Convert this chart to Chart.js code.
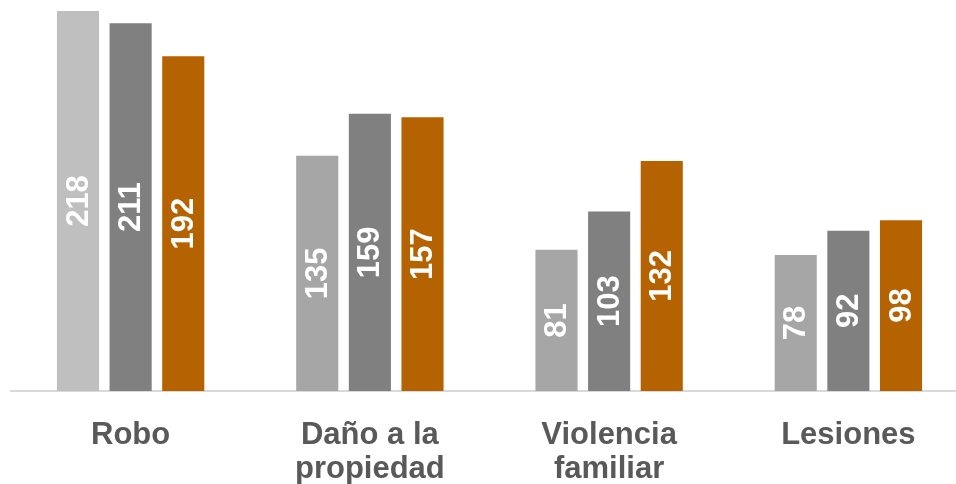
<!DOCTYPE html>
<html>
<head>
<meta charset="utf-8">
<script src="https://cdn.jsdelivr.net/npm/chart.js@4"></script>
<style>
  body { margin: 0; background: #fff; overflow: hidden; }
  #wrap { width: 968px; height: 484px; }
</style>
</head>
<body>
<div id="wrap"><canvas id="myChart"></canvas></div>
<script>
// categorias y series
const categorias = [["Robo"], ["Daño a la", "propiedad"], ["Violencia", "familiar"], ["Lesiones"]];
const serie1 = [218, 135, 81, 78];
const serie2 = [211, 159, 103, 92];
const serie3 = [192, 157, 132, 98];

const colores1 = ['#bfbfbf', '#a6a6a6', '#a6a6a6', '#a6a6a6'];
const fuente = '"Liberation Sans", Arial, sans-serif';

// etiquetas blancas giradas dentro de cada barra
const etiquetasBarras = {
    id: 'etiquetasBarras',
    afterDatasetsDraw(chart) {
        const ctx = chart.ctx;
        ctx.save();
        ctx.fillStyle = '#ffffff';
        ctx.font = 'bold 31px ' + fuente;
        ctx.textAlign = 'center';
        ctx.textBaseline = 'middle';
        chart.data.datasets.forEach((ds, i) => {
            chart.getDatasetMeta(i).data.forEach((bar, j) => {
                const cy = (bar.y + bar.base) / 2;
                ctx.save();
                ctx.translate(bar.x, cy);
                ctx.rotate(-Math.PI / 2);
                ctx.fillText(ds.data[j], 0, 1);
                ctx.restore();
            });
        });
        ctx.restore();
    }
};

const config = {
    type: 'bar',
    data: {
        labels: categorias,
        datasets: [
            { data: serie1, backgroundColor: colores1 },
            { data: serie2, backgroundColor: '#808080' },
            { data: serie3, backgroundColor: '#b56300' }
        ]
    },
    options: {
        responsive: true,
        maintainAspectRatio: false,
        animation: false,
        layout: { padding: { left: 11, right: 0, top: 11, bottom: 0 } },
        datasets: { bar: { barPercentage: 0.8, categoryPercentage: 0.66 } },
        plugins: { legend: { display: false }, tooltip: { enabled: false } },
        scales: {
            y: { display: false, min: 0, max: 218 },
            x: {
                grid: { display: false },
                border: { display: true, color: '#d9d9d9', width: 2 },
                ticks: {
                    color: '#595959',
                    padding: 20,
                    font: { family: fuente, size: 31, weight: 'bold', lineHeight: 1.08 }
                },
                afterFit(scale) { scale.height = 93; }
            }
        }
    },
    plugins: [etiquetasBarras]
};

window.addEventListener('load', () => {
    new Chart(document.getElementById('myChart'), config);
});
</script>
</body>
</html>
